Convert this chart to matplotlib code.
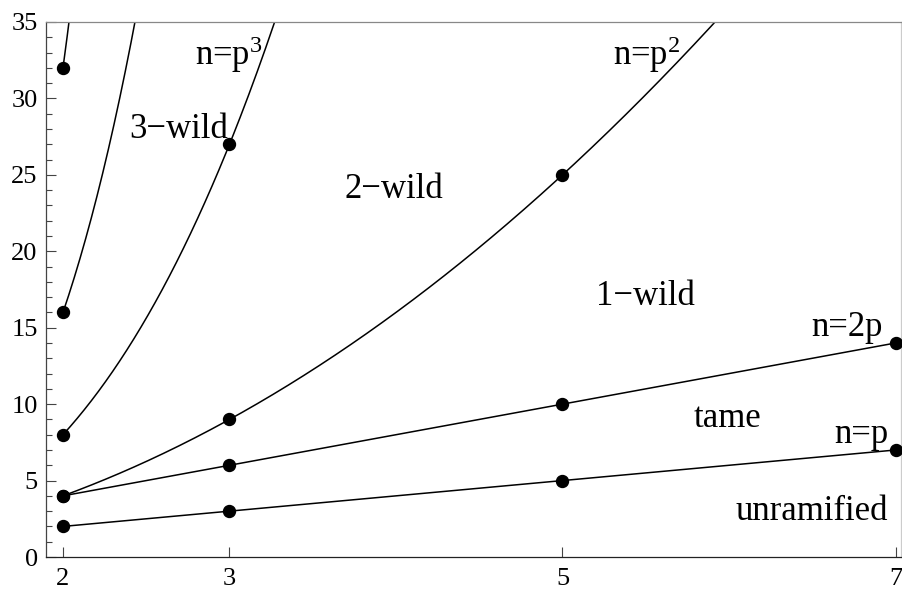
import numpy as np
import matplotlib.pyplot as plt

plt.rcParams['font.family'] = ['Liberation Serif', 'DejaVu Serif']
plt.rcParams['mathtext.fontset'] = 'custom'
plt.rcParams['mathtext.rm'] = 'Liberation Serif'
plt.rcParams['mathtext.it'] = 'Liberation Serif:italic'

# primes p on the x axis, and n values at those primes for each boundary
primes = [2, 3, 5, 7]
n_p = [2, 3, 5, 7]
n_2p = [4, 6, 10, 14]
n_p2 = [4, 9, 25, 49]
n_p3 = [8, 27, 125, 343]
n_p4 = [16, 81, 625, 2401]
n_p5 = [32, 243, 3125, 16807]

# boundary curves n = c * p^k  (coefficient, exponent)
curve_coef = [1, 2, 1, 1, 1, 1]
curve_exp = [1, 1, 2, 3, 4, 5]
point_sets = [n_p, n_2p, n_p2, n_p3, n_p4, n_p5]

# region / curve labels
labels = ['n=p$^\\mathrm{3}$', '3\u2212wild', '2\u2212wild', 'n=p$^\\mathrm{2}$', '1\u2212wild',
          'n=2p', 'tame', 'n=p', 'unramified']
label_x = [3.20, 2.99, 3.99, 5.71, 5.50, 6.925, 5.99, 6.955, 6.955]
label_y = [32.2, 27.4, 23.5, 32.2, 16.5, 14.45, 8.5, 7.46, 2.42]
label_ha = ['right', 'right', 'center', 'right', 'center', 'right', 'center', 'right', 'right']

fig = plt.figure(figsize=(9.02, 5.90), dpi=100)
ax = fig.add_axes([46 / 902, 1 - 557 / 590, 855 / 902, 535 / 590])

pp = np.linspace(2, 7.1, 600)
for c, k in zip(curve_coef, curve_exp):
    ax.plot(pp, c * pp ** k, color='black', lw=1.1)

for ns in point_sets:
    px = [p for p, n in zip(primes, ns) if n <= 35]
    py = [n for n in ns if n <= 35]
    ax.plot(px, py, 'o', color='black', ms=8.6, clip_on=False, zorder=5)

for t, x, y, ha in zip(labels, label_x, label_y, label_ha):
    ax.text(x, y, t, ha=ha, va='baseline', fontsize=25)

ax.set_xlim(1.898, 7.033)
ax.set_ylim(0, 35)
ax.set_xticks(primes)
ax.set_yticks(np.arange(0, 36, 5))
ax.set_yticks(np.arange(0, 36, 1), minor=True)

ax.tick_params(axis='both', which='major', direction='in', length=7, width=0.8,
               labelsize=19, colors='#444444', labelcolor='black')
ax.tick_params(axis='y', which='minor', direction='in', length=4.5, width=0.8, colors='#444444')
ax.tick_params(axis='x', pad=8)
ax.tick_params(axis='y', pad=6)
ax.tick_params(top=False, right=False)

ax.spines['left'].set_color('#444444')
ax.spines['bottom'].set_color('#222222')
ax.spines['top'].set_color('#888888')
ax.spines['right'].set_color('#cccccc')
for s in ax.spines.values():
    s.set_linewidth(0.9)

plt.savefig('out.png', dpi=100)
